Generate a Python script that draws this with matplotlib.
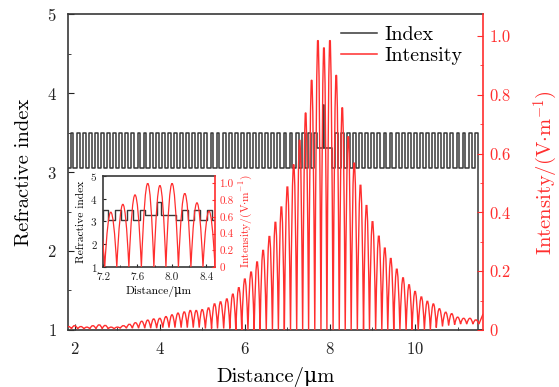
import matplotlib
matplotlib.use('Agg')
import matplotlib.pyplot as plt
from matplotlib.path import Path
from matplotlib.patches import PathPatch
from matplotlib.ticker import MultipleLocator
from matplotlib.lines import Line2D
import numpy as np

plt.rcParams['font.family'] = ['cmr10', 'DejaVu Serif']
plt.rcParams['mathtext.fontset'] = 'cm'
plt.rcParams['axes.formatter.use_mathtext'] = True

# layer stack: refractive index and thickness (um)
n_high = 3.5
n_low = 3.05
n_air = 1.0
d_high = 0.0666
d_low = 0.0763
left_start = 1.547
left_pairs = 43
right_pairs = 24
defect_n = [3.3, 3.85, 3.3]
defect_d = [0.135, 0.045, 0.17]

# field intensity: fringe peaks and the minima between them
peak_x = [1.86, 2.00, 2.15, 2.29, 2.43, 2.58, 2.72, 2.86, 3.00, 3.15, 3.29, 3.43,
          3.58, 3.72, 3.86, 4.00, 4.15, 4.29, 4.43, 4.58, 4.72, 4.86, 5.00, 5.15,
          5.29, 5.43, 5.58, 5.72, 5.86, 6.00, 6.15, 6.29, 6.43, 6.58, 6.72, 6.86,
          7.00, 7.15, 7.29, 7.43, 7.57, 7.72, 7.86, 8.00, 8.15, 8.29, 8.43, 8.57,
          8.72, 8.86, 9.00, 9.15, 9.29, 9.43, 9.57, 9.72, 9.86, 10.00, 10.15, 10.29,
          10.43, 10.57, 10.72, 10.86, 11.00, 11.14, 11.29, 11.43]
peak_i = [0.012, 0.015, 0.012, 0.010, 0.015, 0.018, 0.016, 0.010, 0.010, 0.015, 0.020, 0.025,
          0.030, 0.034, 0.038, 0.040, 0.046, 0.052, 0.058, 0.062, 0.067, 0.067, 0.070, 0.076,
          0.090, 0.097, 0.107, 0.124, 0.146, 0.176, 0.200, 0.235, 0.275, 0.323, 0.372, 0.425,
          0.494, 0.571, 0.656, 0.750, 0.863, 1.000, 0.975, 1.000, 0.880, 0.768, 0.668, 0.577,
          0.500, 0.430, 0.374, 0.324, 0.283, 0.247, 0.210, 0.180, 0.156, 0.133, 0.114, 0.099,
          0.090, 0.073, 0.061, 0.056, 0.044, 0.040, 0.040, 0.035]
trough_i = [0.004, 0.004, 0.004, 0.004, 0.004, 0.004, 0.004, 0.004,
            0.006, 0.006, 0.006, 0.006, 0.006, 0.006, 0.006,
            0.008, 0.008, 0.008, 0.008, 0.008, 0.008, 0.008,
            0.005, 0.005, 0.005, 0.005, 0.005,
            0, 0, 0, 0, 0, 0, 0, 0, 0, 0, 0, 0, 0, 0, 0, 0, 0,
            0, 0, 0, 0, 0, 0, 0, 0, 0, 0, 0, 0, 0, 0, 0, 0,
            0.008, 0.012, 0.015, 0.018, 0.020, 0.020, 0.020]
edge_x = [1.79, 11.50, 11.60]
edge_i = [0.004, 0.020, 0.055]

red = '#ff2e2e'
dark = '#383838'


def index_profile():
    ns = [n_low, n_high] * left_pairs + defect_n + [n_low, n_high] * right_pairs + [n_air]
    ds = [d_low, d_high] * left_pairs + defect_d + [d_low, d_high] * right_pairs + [1.0]
    edges = left_start + np.concatenate([[0], np.cumsum(ds)])
    xs = np.repeat(edges, 2)[1:-1]
    ys = np.repeat(ns, 2)
    return xs, ys


def intensity_path():
    # each fringe: quadratic curve from minimum to minimum through the peak
    troughs = [edge_i[0]] + trough_i + [edge_i[1]]
    tx = [edge_x[0]] + [(a + b) / 2 for a, b in zip(peak_x[:-1], peak_x[1:])] + [edge_x[1]]
    verts = [(tx[0], troughs[0])]
    codes = [Path.MOVETO]
    for k in range(len(peak_x)):
        ctrl = 2 * peak_i[k] - (troughs[k] + troughs[k + 1]) / 2
        verts += [(peak_x[k], ctrl), (tx[k + 1], troughs[k + 1])]
        codes += [Path.CURVE3, Path.CURVE3]
    verts.append((edge_x[2], edge_i[2]))
    codes.append(Path.LINETO)
    return Path(verts, codes)


def style(a, b, left_pad, right_pad, size, major, minor):
    for s in ['left', 'top', 'bottom']:
        a.spines[s].set_color(dark)
        a.spines[s].set_linewidth(1.2)
        b.spines[s].set_visible(False)
    a.spines['right'].set_visible(False)
    b.spines['right'].set_color(red)
    b.spines['right'].set_linewidth(1.2)
    a.tick_params(which='both', direction='in', labelsize=size, colors='#222222', pad=left_pad)
    a.tick_params(which='major', length=major)
    a.tick_params(which='minor', length=minor)
    b.tick_params(which='both', direction='in', labelsize=size, colors=red, pad=right_pad)
    b.tick_params(which='major', length=major)
    b.tick_params(which='minor', length=minor)


idx_x, idx_y = index_profile()

fig = plt.figure(figsize=(5.59, 3.87), dpi=100)
ax = fig.add_axes([0.1211, 0.1473, 0.7424, 0.8165])
ax2 = ax.twinx()

ax.plot(idx_x, idx_y, color=dark, lw=1.1)
ax2.add_patch(PathPatch(intensity_path(), facecolor='none', edgecolor=red, lw=1.0))

ax.set_xlim(1.84, 11.59)
ax.set_ylim(1, 5)
ax2.set_ylim(0, 1.075)
ax.xaxis.set_major_locator(MultipleLocator(2))
ax.xaxis.set_minor_locator(MultipleLocator(1))
ax.yaxis.set_major_locator(MultipleLocator(1))
ax.yaxis.set_minor_locator(MultipleLocator(0.5))
ax2.set_yticks([0, 0.2, 0.4, 0.6, 0.8, 1.0], ['0', '0.2', '0.4', '0.6', '0.8', '1.0'])
ax2.yaxis.set_minor_locator(MultipleLocator(0.1))
style(ax, ax2, 8, 5, 12, 4, 2)

ax.set_xlabel('Distance/μm', fontsize=14.8, labelpad=7)
ax.set_ylabel('Refractive index', fontsize=14.8, labelpad=9.5)
ax2.set_ylabel(r'Intensity/(V$\cdot$m$^{-1}$)', fontsize=14.8, color=red, labelpad=15)

handles = [Line2D([], [], color=dark, lw=1.1), Line2D([], [], color=red, lw=1.1)]
ax2.legend(handles, ['Index', 'Intensity'], loc='upper right', frameon=False,
           fontsize=14.5, handlelength=1.8, handletextpad=0.35, labelspacing=0.15,
           bbox_to_anchor=(0.995, 1.02))

# inset zoomed on the cavity
axi = fig.add_axes([0.1843, 0.3101, 0.2004, 0.2351])
axi2 = axi.twinx()
axi.plot(idx_x, idx_y, color=dark, lw=1.0)
axi2.add_patch(PathPatch(intensity_path(), facecolor='none', edgecolor=red, lw=0.9))
axi.set_xlim(7.2, 8.5)
axi.set_ylim(1, 5)
axi2.set_ylim(0, 1.087)
axi.set_xticks([7.2, 7.6, 8.0, 8.4], ['7.2', '7.6', '8.0', '8.4'])
axi.xaxis.set_minor_locator(MultipleLocator(0.2))
axi.yaxis.set_major_locator(MultipleLocator(1))
axi2.set_yticks([0, 0.2, 0.4, 0.6, 0.8, 1.0], ['0', '0.2', '0.4', '0.6', '0.8', '1.0'])
style(axi, axi2, 4, 3, 8, 2.5, 1.5)
axi.set_xlabel('Distance/μm', fontsize=8.3, labelpad=3)
axi.set_ylabel('Refractive index', fontsize=8.3, labelpad=3)
axi2.set_ylabel(r'Intensity/(V$\cdot$m$^{-1}$)', fontsize=8.3, color=red, labelpad=3)

fig.savefig('out.png', dpi=100)
